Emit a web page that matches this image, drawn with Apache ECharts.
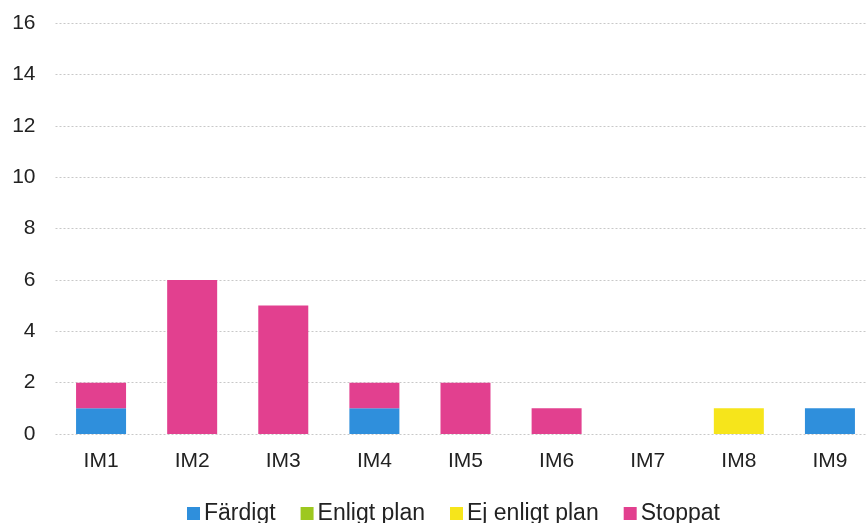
<!DOCTYPE html>
<html>
<head>
<meta charset="utf-8">
<script src="https://cdn.jsdelivr.net/npm/echarts@6/dist/echarts.min.js"></script>
<style>html,body{margin:0;padding:0;background:#fff;overflow:hidden}#c{width:880px;height:523px}</style>
</head>
<body>
<div id="c"></div>
<script>
const categories = ['IM1','IM2','IM3','IM4','IM5','IM6','IM7','IM8','IM9'];
const seriesNames = ['Färdigt','Enligt plan','Ej enligt plan','Stoppat'];
const fardigt     = [1,0,0,1,0,0,0,0,1];
const enligtPlan  = [0,0,0,0,0,0,0,0,0];
const ejEnligt    = [0,0,0,0,0,0,0,1,0];
const stoppat     = [1,6,5,1,2,1,0,0,0];
const yTicks = [0,2,4,6,8,10,12,14,16];
const colors = ['#2f8fdc','#9dc81f','#f6e51b','#e2408f'];

const values = [fardigt, enligtPlan, ejEnligt, stoppat];
const chart = echarts.init(document.getElementById('c'));
const font = '"Liberation Sans", Arial, sans-serif';
chart.setOption({
  animation: false,
  color: colors,
  textStyle: {fontFamily: font},
  grid: {left: 55.5, right: 4.5, top: 23, bottom: 89, containLabel: false},
  legend: {
    left: 182, top: 497, itemWidth: 13, itemHeight: 13, itemGap: 25,
    icon: 'rect',
    textStyle: {fontSize: 23, color: '#222', fontFamily: font, padding: [0,0,0,-1]},
    data: seriesNames
  },
  xAxis: {
    type: 'category', data: categories,
    axisLine: {show: false}, axisTick: {show: false},
    axisLabel: {fontSize: 21, color: '#222', margin: 17, fontFamily: font}
  },
  yAxis: {
    type: 'value', min: yTicks[0], max: yTicks[yTicks.length-1], interval: 2,
    axisLine: {show: false}, axisTick: {show: false},
    axisLabel: {fontSize: 21, color: '#222', margin: 20, fontFamily: font},
    splitLine: {show: true, lineStyle: {color: '#c8c8c8', type: [2,2], width: 1}}
  },
  series: seriesNames.map((n, i) => ({
    name: n, type: 'bar', stack: 'total', barWidth: 50,
    data: values[i].map(v => v === 0 ? null : v)
  }))
});
</script>
</body>
</html>
